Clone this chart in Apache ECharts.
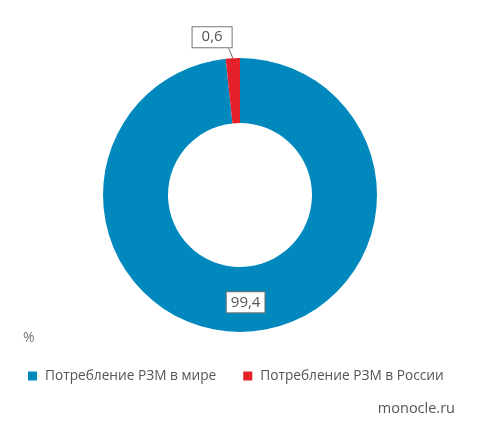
<!DOCTYPE html>
<html><head><meta charset="utf-8">
<script src="https://cdn.jsdelivr.net/npm/echarts@6/dist/echarts.min.js"></script>
<style>html,body{margin:0;padding:0;background:#fff}#c{width:480px;height:439px}</style>
</head><body><div id="c"></div>
<script>
const categories = ['Потребление РЗМ в мире', 'Потребление РЗМ в России'];
const values = [99.4, 0.6];
const colors = ['#0189BE', '#E5202A'];
const unitLabel = '%';
const sourceLabel = 'monocle.ru';

const chart = echarts.init(document.getElementById('c'), null, {renderer: 'canvas'});
const fmt = p => String(p.value).replace('.', ',');
const boxLabel = {
  formatter: fmt,
  color: '#555',
  fontFamily: 'Open Sans',
  fontSize: 15,
  backgroundColor: '#fff',
  borderColor: '#777',
  borderWidth: 1
};
const DX = 8, DY = -17;
chart.setOption({
  animation: false,
  color: colors,
  legend: {
    left: 23, top: 364,
    itemWidth: 9, itemHeight: 9, itemGap: 27,
    icon: 'rect',
    textStyle: {color: '#555', fontFamily: 'Open Sans', fontSize: 13.7, padding: [0, 0, 0, 3]},
    data: categories
  },
  graphic: [
    {type: 'text', left: 23, top: 331, style: {text: unitLabel, fill: '#777', font: '14px "Open Sans"'}},
    {type: 'text', right: 25, top: 401, style: {text: sourceLabel, fill: '#555', font: '14.5px "Open Sans"'}}
  ],
  series: [{
    type: 'pie',
    center: [240, 195],
    radius: [72, 137],
    startAngle: 90,
    clockwise: true,
    minAngle: 6,
    avoidLabelOverlap: false,
    data: [
      {name: categories[0], value: values[0],
       label: Object.assign({show: true, position: 'inside', padding: [3, 4, 2, 4]}, boxLabel), labelLine: {show: false}},
      {name: categories[1], value: values[1],
       label: Object.assign({show: true, position: 'outside', padding: [3, 9, 2, 9]}, boxLabel),
       labelLine: {show: true, length: 4, length2: 4, lineStyle: {color: '#666', width: 1}}}
    ],
    labelLayout: function (p) {
      if (p.dataIndex === 1 && p.labelLinePoints) {
        const r = p.labelRect;
        const a = p.labelLinePoints[0];
        const end = [r.x + DX + r.width - 4, r.y + DY + r.height];
        return {dx: DX, dy: DY, labelLinePoints: [a, [(a[0] + end[0]) / 2, (a[1] + end[1]) / 2], end]};
      }
      return {};
    },
    itemStyle: {borderWidth: 0},
    emphasis: {disabled: true}
  }]
});
</script></body></html>
